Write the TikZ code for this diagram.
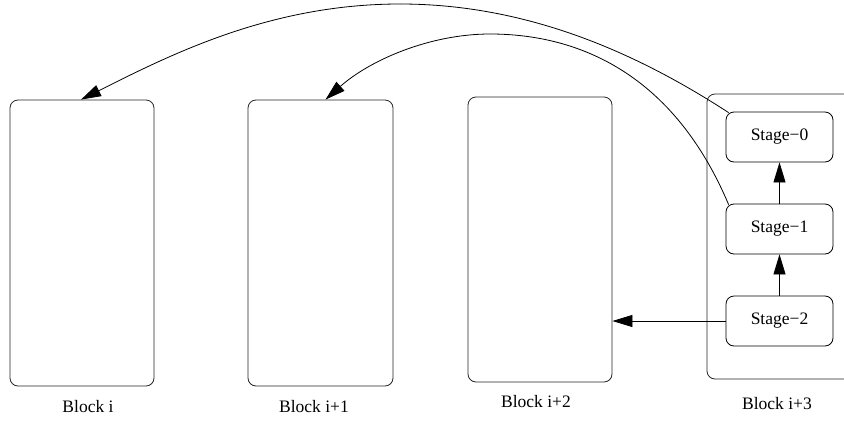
\documentclass[tikz,border=0pt]{standalone}
\usepackage{fontspec}
\setmainfont{Liberation Serif}
\usetikzlibrary{arrows.meta}
\tikzset{
  blk/.style={draw=black!85, line width=0.8pt, rounded corners=8pt, inner sep=0pt},
  stagebox/.style={draw, line width=0.8pt, rounded corners=8pt, minimum width=107pt, minimum height=50pt, inner sep=0pt, font=\fontsize{17.5}{20}\selectfont},
  lbl/.style={font=\fontsize{17.5}{20}\selectfont, inner sep=0pt},
  conn/.style={line width=0.8pt, -{Triangle[length=20pt,width=12pt]}},
}
\begin{document}
\begin{tikzpicture}[x=1pt,y=-1pt]
\clip (0,0) rectangle (844,421);
\node[blk, minimum width=144pt, minimum height=286pt] (b0) at (82,243) {};
\node[blk, minimum width=145pt, minimum height=286pt] (b1) at (320.5,243) {};
\node[blk, minimum width=144pt, minimum height=285pt] (b2) at (540,239.5) {};
\node[blk, minimum width=150pt, minimum height=285pt] (b3) at (782,236.5) {};
\node[lbl] (l0) at (88,407) {Block i};
\node[lbl] (l1) at (314,407) {Block i+1};
\node[lbl] (l2) at (536,402) {Block i+2};
\node[lbl] (l3) at (777,404) {Block i+3};
\node[stagebox] (s0) at (779.5,137) {Stage−0};
\node[stagebox] (s1) at (779.5,229) {Stage−1};
\node[stagebox] (s2) at (779.5,321) {Stage−2};
\draw[conn] (s1) -- (s0);
\draw[conn] (s2) -- (s1);
\draw[conn] (s2) -- (b2.east |- s2);
\coordinate (p0) at (400,4);
\coordinate (p1) at (490,34);
\draw[line width=0.8pt] ([shift={(3,1)}]s0.north west) .. controls (640,55) and (530,4) .. (p0);
\draw[conn] (p0) .. controls (270,4) and (170,55) .. ([xshift=-1pt]b0.north);
\draw[line width=0.8pt] ([shift={(3,1)}]s1.north west) .. controls (674,75) and (580,34) .. (p1);
\draw[conn] (p1) .. controls (430,34) and (370,60) .. ([xshift=5pt]b1.north);
\end{tikzpicture}
\end{document}
